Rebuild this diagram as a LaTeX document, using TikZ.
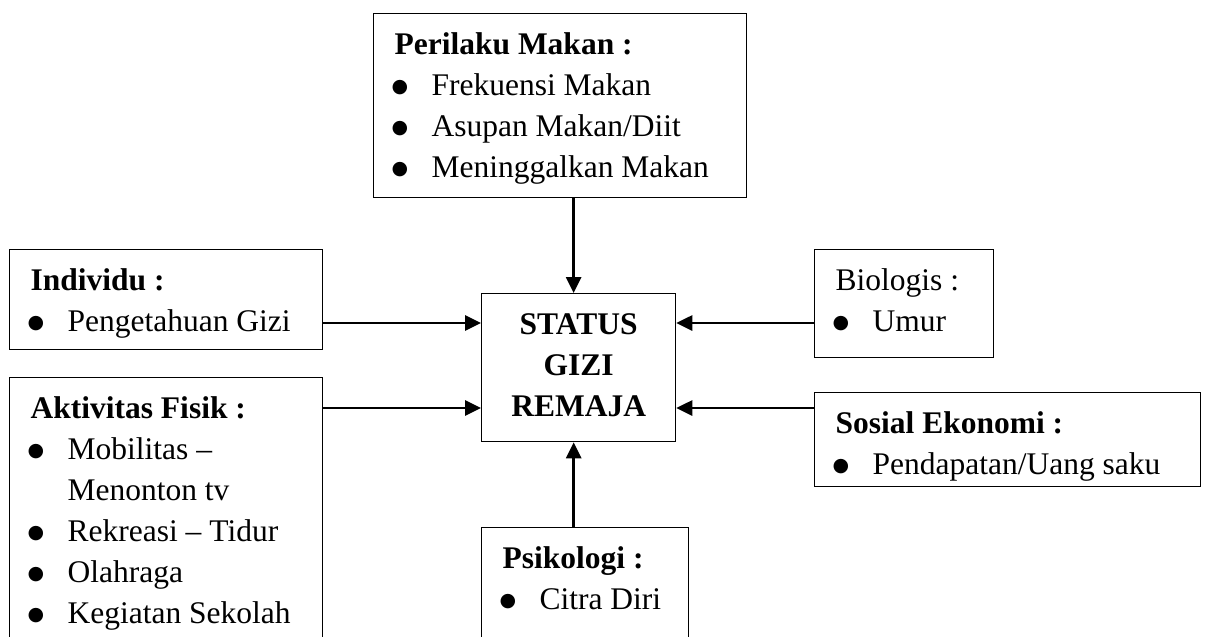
\documentclass[tikz,border=0pt]{standalone}
\usepackage{fontspec}
\setmainfont{Liberation Serif}
\newfontfamily\dotfont{DejaVu Sans}
\usetikzlibrary{arrows.meta,calc}
\newcommand{\boxfont}{\fontsize{15.75}{20.5}\selectfont}
\newcommand{\blt}{\hspace*{-1.5pt}\raisebox{1.7pt}{\dotfont\fontsize{9.5}{9.5}\selectfont ●}}
\newcommand{\itm}[1]{\makebox[18.5pt][l]{\blt}#1}
\newcommand{\boxtext}[3]{\parbox[c][#2][t]{#1}{\boxfont\leftskip=10.5pt\rule{0pt}{20.5pt}#3}}

\begin{document}
\begin{tikzpicture}[x=0.5pt,y=-0.5pt,
  box/.style={draw,line width=0.65pt,inner sep=0pt,anchor=north west},
  arr/.style={line width=1.4pt,-{Triangle[length=8pt,width=7.5pt]}}]
\clip (0,0) rectangle (1205,637);
\node[box] (perilaku) at (373,13) {\boxtext{186.5pt}{92pt}{\textbf{Perilaku Makan :}\\
  \itm{Frekuensi Makan}\\ \itm{Asupan Makan/Diit}\\ \itm{Meninggalkan Makan}}};
\node[box] (individu) at (9,249) {\boxtext{156.5pt}{50pt}{\textbf{Individu :}\\
  \itm{Pengetahuan Gizi}}};
\node[box] (aktivitas) at (9,377) {\boxtext{156.5pt}{145pt}{\textbf{Aktivitas Fisik :}\\
  \itm{Mobilitas --}\\ \hspace*{18.5pt}Menonton tv\\ \itm{Rekreasi -- Tidur}\\
  \itm{Olahraga}\\ \itm{Kegiatan Sekolah}}};
\node[box] (status) at (481,293) {\parbox[c][74pt][t]{97pt}{\boxfont\bfseries\centering
  \rule{0pt}{20.5pt}STATUS\\ GIZI\\ REMAJA}};
\node[box] (psikologi) at (481,527) {\boxtext{103.5pt}{70pt}{\textbf{Psikologi :}\\
  \itm{Citra Diri}}};
\node[box] (biologis) at (814,249) {\boxtext{89.5pt}{54pt}{Biologis :\\
  \itm{Umur}}};
\node[box] (sosial) at (814,392) {\boxtext{193pt}{47pt}{\textbf{Sosial Ekonomi :}\\
  \itm{Pendapatan/Uang saku}}};
\coordinate (s1) at ($(status.north west)+(0,30)$);
\coordinate (s2) at ($(status.north west)+(0,115)$);
\coordinate (s3) at ($(status.north east)+(0,30)$);
\coordinate (s4) at ($(status.north east)+(0,115)$);
\coordinate (s5) at ($(status.north)+(-5,0)$);
\coordinate (s6) at ($(status.south)+(-5,0)$);
\draw[arr] (individu.east |- s1) -- (s1);
\draw[arr] (aktivitas.east |- s2) -- (s2);
\draw[arr] (biologis.west |- s3) -- (s3);
\draw[arr] (sosial.west |- s4) -- (s4);
\draw[arr] (s5 |- perilaku.south) -- (s5);
\draw[arr] (s6 |- psikologi.north) -- (s6);
\end{tikzpicture}
\end{document}
